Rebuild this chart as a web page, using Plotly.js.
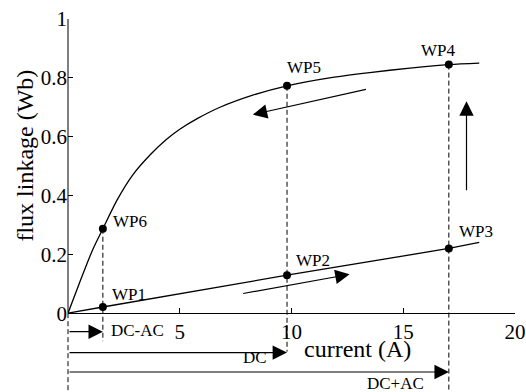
<!DOCTYPE html>
<html>
<head>
<meta charset="utf-8">
<script src="https://cdn.plot.ly/plotly-3.0.1.min.js"></script>
<style>
  html, body { margin: 0; padding: 0; background: #fff; }
  #chart { width: 526px; height: 392px; }
</style>
</head>
<body>
<div id="chart"></div>
<script>
// ---- data ----
// saturated (upper) flux-linkage curve
var curveX = [0, 0.5, 1.1, 1.56, 2.2, 2.9, 3.7, 4.4, 5.0, 5.8, 6.8, 8.3, 9.8, 11.7, 13.5, 15.3, 17.04, 18.4];
var curveY = [0, 0.10, 0.215, 0.287, 0.385, 0.47, 0.54, 0.59, 0.625, 0.662, 0.700, 0.742, 0.773, 0.800, 0.818, 0.833, 0.845, 0.850];
// linear (lower) flux-linkage line
var lineX = [0, 1.56, 9.8, 17.04, 18.4];
var lineY = [0, 0.021, 0.129, 0.220, 0.241];
// working points
var wpNames = ['WP1', 'WP2', 'WP3', 'WP4', 'WP5', 'WP6'];
var wpX = [1.56, 9.8, 17.04, 17.04, 9.8, 1.56];
var wpY = [0.021, 0.129, 0.220, 0.845, 0.773, 0.287];
// dashed drop lines (x, top y, bottom y)
var dropX = [0, 1.56, 9.8, 17.04];
var dropTop = [0, 0.287, 0.773, 0.845];
var dropBottom = [-0.268, -0.095, -0.131, -0.268];
// direction arrows (tail -> head)
var arrowTailX = [7.77, 13.4, 17.83];
var arrowTailY = [0.066, 0.762, 0.413];
var arrowHeadX = [12.6, 8.27, 17.83];
var arrowHeadY = [0.132, 0.675, 0.720];
// current-range arrows below the axis
var rangeNames = ['DC-AC', 'DC', 'DC+AC'];
var rangeStart = [0, 0, 0];
var rangeEnd = [1.56, 9.8, 17.04];
var rangeLevel = [-0.063, -0.134, -0.200];
// axes
var xRange = [0, 20];
var yRange = [-0.268, 1];
var xTickVals = [5, 10, 15, 20];
var yTickVals = [0, 0.2, 0.4, 0.6, 0.8, 1];
var yTickText = ['0', '0.2', '0.4', '0.6', '0.8', '1'];
var xTitle = 'current (A)';
var yTitle = 'flux linkage (Wb)';

// ---- styles / layout ----
var FONT = 'Liberation Serif';
var INK = '#000';
function xdom(v) { return (v - xRange[0]) / (xRange[1] - xRange[0]); }

var traces = [
  { x: curveX, y: curveY, mode: 'lines', line: { color: INK, width: 1.3, shape: 'spline', smoothing: 0.8 }, hoverinfo: 'skip' },
  { x: lineX, y: lineY, mode: 'lines', line: { color: INK, width: 1.3 }, hoverinfo: 'skip' },
  { x: wpX, y: wpY, mode: 'markers', marker: { color: INK, size: 8 }, cliponaxis: false, hoverinfo: 'skip' }
];

var shapes = [];
// y axis line from 0 to 1 only
shapes.push({ type: 'line', xref: 'x domain', yref: 'y', x0: xdom(0), x1: xdom(0), y0: 0, y1: 1,
  line: { color: INK, width: 1 } });
for (var i = 0; i < dropX.length; i++) {
  var atEdge = dropX[i] === xRange[0];
  shapes.push({ type: 'line', xref: atEdge ? 'x domain' : 'x', yref: 'y',
    x0: atEdge ? xdom(dropX[i]) : dropX[i], x1: atEdge ? xdom(dropX[i]) : dropX[i],
    y0: dropTop[i], y1: dropBottom[i],
    line: { color: INK, width: 1, dash: '5px,3px' } });
}

var annotations = [];
function arrow(tx, ty, hx, hy) {
  annotations.push({ x: hx, y: hy, ax: tx, ay: ty, xref: 'x', yref: 'y', axref: 'x', ayref: 'y',
    text: '', showarrow: true, arrowhead: 2, arrowsize: 2.4, arrowwidth: 1.2, arrowcolor: INK, standoff: 0 });
}
for (i = 0; i < arrowTailX.length; i++) arrow(arrowTailX[i], arrowTailY[i], arrowHeadX[i], arrowHeadY[i]);
for (i = 0; i < rangeNames.length; i++) arrow(rangeStart[i], rangeLevel[i], rangeEnd[i], rangeLevel[i]);

// working point labels (offsets in px)
var wpShift = [[7, 12], [7, 15], [8, 17], [-30, 14], [-2, 18], [8, 7]];
for (i = 0; i < wpNames.length; i++) {
  annotations.push({ x: wpX[i], y: wpY[i], xref: 'x', yref: 'y', text: wpNames[i], showarrow: false,
    xanchor: 'left', yanchor: 'middle', xshift: wpShift[i][0], yshift: wpShift[i][1],
    font: { family: FONT, size: 17, color: INK } });
}
// range labels
var rangeLab = [{ xa: 'left', dx: 6, dy: 1 }, { xa: 'right', dx: -18, dy: -5 }, { xa: 'right', dx: -23, dy: -11 }];
for (i = 0; i < rangeNames.length; i++) {
  annotations.push({ x: rangeEnd[i], y: rangeLevel[i], xref: 'x', yref: 'y', text: rangeNames[i], showarrow: false,
    xanchor: rangeLab[i].xa, yanchor: 'middle', xshift: rangeLab[i].dx, yshift: rangeLab[i].dy,
    font: { family: FONT, size: 17, color: INK } });
}
// axis titles
annotations.push({ x: 12.97, y: -0.123, xref: 'x', yref: 'y', text: xTitle, showarrow: false,
  xanchor: 'center', yanchor: 'middle', font: { family: FONT, size: 24, color: INK } });
annotations.push({ x: -0.096, y: 0.536, xref: 'paper', yref: 'y', text: yTitle, showarrow: false, textangle: -90,
  xanchor: 'center', yanchor: 'middle', font: { family: FONT, size: 24, color: INK } });

var layout = {
  width: 526, height: 392,
  margin: { l: 68, r: 11, t: 19, b: 0, pad: 0 },
  paper_bgcolor: '#fff', plot_bgcolor: '#fff',
  showlegend: false,
  font: { family: FONT, color: INK },
  xaxis: {
    range: xRange, anchor: 'free', position: (0 - yRange[0]) / (yRange[1] - yRange[0]),
    showline: true, linecolor: INK, linewidth: 1, mirror: false,
    ticks: 'inside', ticklen: 5, tickwidth: 1, tickcolor: INK,
    tickmode: 'array', tickvals: xTickVals,
    showgrid: false, zeroline: false,
    tickfont: { family: FONT, size: 21, color: INK }
  },
  yaxis: {
    range: yRange, showline: false,
    ticks: 'inside', ticklen: 5, tickwidth: 1, tickcolor: INK,
    tickmode: 'array', tickvals: yTickVals, ticktext: yTickText,
    showgrid: false, zeroline: false,
    tickfont: { family: FONT, size: 21, color: INK }
  },
  shapes: shapes,
  annotations: annotations
};

Plotly.newPlot('chart', traces, layout, { displayModeBar: false, staticPlot: true });
</script>
</body>
</html>
